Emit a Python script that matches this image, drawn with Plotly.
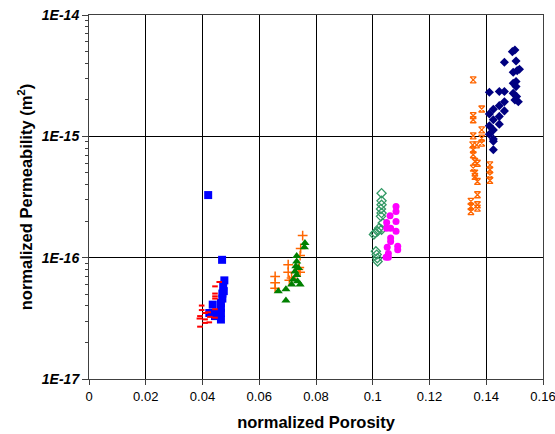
import plotly.graph_objects as go

# ---- data ----
blue_x = [0.0420, 0.0469, 0.0477, 0.0473, 0.0470, 0.0465, 0.0465, 0.0465, 0.0465, 0.0436, 0.0424, 0.0444, 0.0444, 0.0470, 0.0475]
blue_y = [3.28e-16, 9.6e-17, 6.5e-17, 5.8e-17, 5.06e-17, 4.24e-17, 3.86e-17, 3.5e-17, 3.09e-17, 4.1e-17, 3.5e-17, 3.5e-17, 3.3e-17, 4.6e-17, 5.3e-17]

red_x = [0.0444, 0.0459, 0.0444, 0.0444, 0.0444, 0.0397, 0.0397, 0.0391, 0.0389, 0.0409, 0.0409, 0.0409, 0.0424, 0.0391, 0.0420, 0.0426, 0.0444, 0.0444]
red_y = [5.8e-17, 6.3e-17, 5.06e-17, 4.8e-17, 4.6e-17, 4.03e-17, 3.7e-17, 3.3e-17, 3.15e-17, 3.5e-17, 3.1e-17, 2.9e-17, 2.93e-17, 2.7e-17, 3.55e-17, 3.25e-17, 3.76e-17, 3.2e-17]

plus_x = [0.0753, 0.0746, 0.0744, 0.0702, 0.0741, 0.0702, 0.0744, 0.0656, 0.0714, 0.0656, 0.0706, 0.0656, 0.0738]
plus_y = [1.52e-16, 1.19e-16, 1.04e-16, 8.75e-17, 8.3e-17, 7.6e-17, 7.6e-17, 7.0e-17, 6.8e-17, 6.2e-17, 6.5e-17, 5.6e-17, 8.0e-17]

tri_x = [0.0761, 0.0759, 0.0732, 0.0732, 0.0729, 0.0726, 0.0732, 0.0720, 0.0744, 0.0714, 0.0694, 0.0667, 0.0694, 0.0738, 0.0735]
tri_y = [1.32e-16, 1.22e-16, 1.03e-16, 9.3e-17, 8.5e-17, 7.7e-17, 7.2e-17, 6.6e-17, 6.0e-17, 6.0e-17, 5.5e-17, 5.28e-17, 4.43e-17, 8.2e-17, 6.4e-17]

odia_x = [0.1031, 0.1031, 0.1031, 0.1029, 0.1031, 0.1029, 0.1035, 0.1023, 0.1017, 0.1008, 0.1004, 0.1031, 0.1011, 0.1014, 0.1016, 0.1017]
odia_y = [3.4e-16, 2.94e-16, 2.73e-16, 2.52e-16, 2.33e-16, 2.19e-16, 1.93e-16, 1.76e-16, 1.65e-16, 1.6e-16, 1.55e-16, 1.7e-16, 1.13e-16, 1.06e-16, 9.9e-17, 9.3e-17]

circ_x = [0.1082, 0.1082, 0.1061, 0.1082, 0.1049, 0.1049, 0.1063, 0.1082, 0.1063, 0.1063, 0.1088, 0.1088, 0.1051, 0.1055, 0.1055, 0.1047]
circ_y = [2.64e-16, 2.4e-16, 2.22e-16, 1.99e-16, 1.95e-16, 1.75e-16, 1.75e-16, 1.65e-16, 1.45e-16, 1.36e-16, 1.24e-16, 1.16e-16, 1.22e-16, 1.08e-16, 1.01e-16, 1.01e-16]

star_x = [0.1354, 0.1384, 0.1354, 0.1354, 0.1384, 0.1354, 0.1384, 0.1384, 0.1366, 0.1352, 0.1354, 0.1354, 0.1360, 0.1369, 0.1354, 0.1360, 0.1360, 0.1369,
          0.1413, 0.1413, 0.1413, 0.1413, 0.1369, 0.1346, 0.1346, 0.1346, 0.1369, 0.1369]
star_y = [2.92e-15, 1.68e-15, 1.48e-15, 1.37e-15, 1.13e-15, 1.01e-15, 9.65e-16, 8.8e-16, 8.5e-16, 8.5e-16, 7.75e-16, 7.05e-16, 6.2e-16, 6.0e-16, 5.47e-16, 4.98e-16, 4.67e-16, 4.25e-16,
          5.82e-16, 5.3e-16, 4.8e-16, 4.33e-16, 3.3e-16, 2.91e-16, 2.64e-16, 2.4e-16, 2.73e-16, 2.56e-16]

navy_x = [0.1492, 0.1501, 0.1464, 0.1505, 0.1495, 0.1509, 0.1517, 0.1495, 0.1505, 0.1505, 0.1411, 0.1446, 0.1464, 0.1495, 0.1507, 0.1513, 0.1501, 0.1464,
          0.1446, 0.1425, 0.1464, 0.1411, 0.1446, 0.1425, 0.1446, 0.1411, 0.1425, 0.1411, 0.1425, 0.1425, 0.1425]
navy_y = [4.99e-15, 5.15e-15, 4.08e-15, 4.18e-15, 3.37e-15, 3.48e-15, 3.57e-15, 2.74e-15, 2.83e-15, 2.57e-15, 2.31e-15, 2.34e-15, 2.34e-15, 2.26e-15, 2.13e-15, 1.93e-15, 1.99e-15, 1.93e-15,
          1.79e-15, 1.67e-15, 1.62e-15, 1.53e-15, 1.46e-15, 1.37e-15, 1.26e-15, 1.22e-15, 1.13e-15, 1.04e-15, 9.5e-16, 9.1e-16, 7.75e-16]

x_ticks = [0, 0.02, 0.04, 0.06, 0.08, 0.1, 0.12, 0.14, 0.16]
x_labels = ["0", "0.02", "0.04", "0.06", "0.08", "0.1", "0.12", "0.14", "0.16"]
y_ticks = [1e-17, 1e-16, 1e-15, 1e-14]
y_labels = ["1E-17", "1E-16", "1E-15", "1E-14"]

fig = go.Figure()

def add(x, y, symbol, color, size, lw=0, lcolor=None):
    fig.add_trace(go.Scatter(
        x=x, y=y, mode="markers", showlegend=False, cliponaxis=False,
        marker=dict(symbol=symbol, color=color, size=size,
                    line=dict(width=lw, color=lcolor or color))))

add(blue_x, blue_y, "square", "#0000FF", 8)
add(red_x, red_y, "line-ew", "#FF0000", 4, 2, "#FF0000")
add(plus_x, plus_y, "cross-thin", "#FF6600", 7, 1.5, "#FF6600")
add(tri_x, tri_y, "triangle-up", "#008000", 8)
add(odia_x, odia_y, "diamond-open", "#339966", 7, 1.3, "#339966")
add(circ_x, circ_y, "circle", "#FF00FF", 7)
add(star_x, star_y, "hourglass-open", "#FF6600", 6, 1.3, "#FF6600")
add(navy_x, navy_y, "diamond", "#000080", 7)

fig.update_layout(
    width=555, height=434,
    margin=dict(l=89, r=12, t=15, b=55),
    paper_bgcolor="white", plot_bgcolor="white",
    font=dict(family="Arial, Liberation Sans, sans-serif", size=14, color="black"),
)
fig.update_xaxes(
    range=[0, 0.16], tickvals=x_ticks, ticktext=x_labels, automargin=False,
    tickfont=dict(size=13), ticklabeloverflow="allow",
    showgrid=True, gridcolor="black", gridwidth=1,
    showline=True, linecolor="#404040", linewidth=1, mirror=True,
    ticks="outside", ticklen=5, tickcolor="#404040",
    zeroline=False,
    title=dict(text="<b>normalized Porosity</b>", font=dict(size=16.5), standoff=13),
)
fig.update_yaxes(
    type="log", range=[-17, -14], tickvals=y_ticks, automargin=False,
    ticktext=["<b><i>%s</i></b>" % t for t in y_labels],
    tickfont=dict(size=14), ticklabeloverflow="allow",
    showgrid=True, gridcolor="black", gridwidth=1,
    showline=True, linecolor="#404040", linewidth=1, mirror=True,
    ticks="outside", ticklen=6, tickcolor="#404040",
    minor=dict(ticks="outside", ticklen=3, tickcolor="#404040", dtick="D1", showgrid=False),
    zeroline=False,
    title=dict(text="<b>normalized Permeability (m<sup>2</sup>)</b>", font=dict(size=16.5), standoff=5),
)

fig.write_html("out.html", config={"displayModeBar": False},
               post_script="document.body.style.margin='0';document.body.style.overflow='hidden';")
